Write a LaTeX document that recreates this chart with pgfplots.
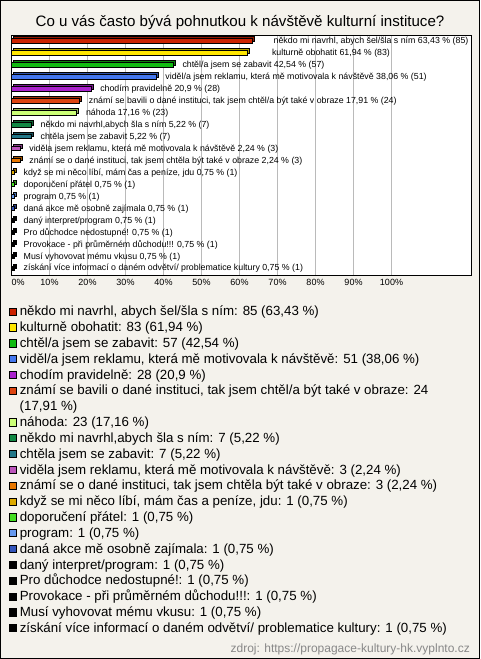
\documentclass[border=0pt]{standalone}
\usepackage{pgfplots}
\pgfplotsset{compat=1.18}
\usepackage{fontspec}
\setmainfont{Liberation Sans}
\definecolor{bg}{RGB}{244,242,236}
\definecolor{cA}{RGB}{204,34,0}
\definecolor{cB}{RGB}{255,230,0}
\definecolor{cC}{RGB}{17,187,17}
\definecolor{cD}{RGB}{68,119,238}
\definecolor{cE}{RGB}{170,34,204}
\definecolor{cF}{RGB}{221,68,17}
\definecolor{cG}{RGB}{204,255,119}
\definecolor{cH}{RGB}{17,136,68}
\definecolor{cI}{RGB}{34,119,136}
\definecolor{cJ}{RGB}{187,85,187}
\definecolor{cK}{RGB}{232,119,0}
\definecolor{cL}{RGB}{221,170,0}
\definecolor{cM}{RGB}{68,221,34}
\definecolor{cN}{RGB}{102,153,238}
\definecolor{cO}{RGB}{51,85,187}
\definecolor{cZ}{RGB}{0,0,0}
\definecolor{srcgray}{RGB}{136,136,136}
\newcommand{\barfont}{\fontsize{8.8}{10}\selectfont}
\newcommand{\legfont}{\fontsize{13.3}{15}\selectfont}
\newcommand{\tickfont}{\fontsize{9}{10}\selectfont}
\newcommand{\titlefont}{\fontsize{15.1}{18}\selectfont}
\newcommand{\srcfont}{\fontsize{12}{13}\selectfont}
% bar: color, value, row, label, label shift
\newcommand{\mybar}[5]{%
 \addplot[xbar, bar shift=0pt, bar width=4.4pt, fill=#1!70!black, draw=black, line width=0.7pt, xshift=2pt, yshift=2pt, forget plot] coordinates {(#2,#3)};
 \addplot[xbar, bar shift=0pt, bar width=4.4pt, fill=#1, draw=black, line width=0.7pt, forget plot,
   nodes near coords={#4}, nodes near coords align={horizontal},
   every node near coord/.append style={font=\barfont, anchor=base west, xshift=#5, yshift=-2.9pt, text=black, inner sep=0pt}] coordinates {(#2,#3)};
}
% legend item: color, y, text
\newcommand{\legitem}[3]{%
 \addplot[only marks, mark=square*, mark size=3.6pt, mark options={fill=#1, draw=black, line width=0.6pt},
   nodes near coords={#3}, nodes near coords align={horizontal},
   every node near coord/.append style={font=\legfont, anchor=base west, xshift=6.5pt, yshift=-4.2pt, text=black, inner sep=0pt}] coordinates {(13,#2)};
}
\begin{document}
\begin{tikzpicture}[x=1pt,y=1pt]
\fill[bg] (0,0) rectangle (480,-659);
\begin{axis}[at={(11.5pt,-35.5pt)}, anchor=north west, scale only axis,
  width=459.8pt, height=240pt, xmin=0, xmax=121, ymin=-0.46, ymax=19.62, y dir=reverse,
  axis background/.style={fill=white}, axis line style={line width=1.4pt},
  xtick={0,10,20,30,40,50,60,70,80,90,100},
  xticklabels={\makebox[0pt][l]{0\%},10\%,20\%,30\%,40\%,50\%,60\%,70\%,80\%,90\%,100\%},
  ytick=\empty, major tick length=0pt, xmajorgrids,
  grid style={color=black!27, line width=0.8pt},
  xticklabel style={font=\tickfont, text=black},
  clip=false]
\mybar{cA}{63.43}{0}{někdo mi navrhl, abych šel/šla s ním 63,43 \% (85)}{20.8pt}
\mybar{cB}{61.94}{1}{kulturně obohatit 61,94 \% (83)}{24.8pt}
\mybar{cC}{42.54}{2}{chtěl/a jsem se zabavit 42,54 \% (57)}{9pt}
\mybar{cD}{38.06}{3}{viděl/a jsem reklamu, která mě motivovala k návštěvě 38,06 \% (51)}{9pt}
\mybar{cE}{20.9}{4}{chodím pravidelně 20,9 \% (28)}{9pt}
\mybar{cF}{17.91}{5}{známí se bavili o dané instituci, tak jsem chtěl/a být také v obraze 17,91 \% (24)}{9pt}
\mybar{cG}{17.16}{6}{náhoda 17,16 \% (23)}{9pt}
\mybar{cH}{5.22}{7}{někdo mi navrhl,abych šla s ním 5,22 \% (7)}{9pt}
\mybar{cI}{5.22}{8}{chtěla jsem se zabavit 5,22 \% (7)}{9pt}
\mybar{cJ}{2.24}{9}{viděla jsem reklamu, která mě motivovala k návštěvě 2,24 \% (3)}{9pt}
\mybar{cK}{2.24}{10}{známí se o dané instituci, tak jsem chtěla být také v obraze 2,24 \% (3)}{9pt}
\mybar{cL}{0.75}{11}{když se mi něco líbí, mám čas a peníze, jdu 0,75 \% (1)}{9pt}
\mybar{cM}{0.75}{12}{doporučení přátel 0,75 \% (1)}{9pt}
\mybar{cN}{0.75}{13}{program 0,75 \% (1)}{9pt}
\mybar{cO}{0.75}{14}{daná akce mě osobně zajímala 0,75 \% (1)}{9pt}
\mybar{cZ}{0.75}{15}{daný interpret/program 0,75 \% (1)}{9pt}
\mybar{cZ}{0.75}{16}{Pro důchodce nedostupné! 0,75 \% (1)}{9pt}
\mybar{cZ}{0.75}{17}{Provokace - při průměrném důchodu!!! 0,75 \% (1)}{9pt}
\mybar{cZ}{0.75}{18}{Musí vyhovovat mému vkusu 0,75 \% (1)}{9pt}
\mybar{cZ}{0.75}{19}{získání více informací o daném odvětví/ problematice kultury 0,75 \% (1)}{9pt}
\end{axis}
\begin{axis}[at={(0pt,0pt)}, anchor=north west, scale only axis, width=480pt, height=659pt,
  xmin=0, xmax=480, ymin=0, ymax=659, y dir=reverse, hide axis, clip=false]
\legitem{cA}{311.5}{někdo mi navrhl, abych šel/šla s ním: 85 (63,43 \%)}
\legitem{cB}{327.3}{kulturně obohatit: 83 (61,94 \%)}
\legitem{cC}{343.2}{chtěl/a jsem se zabavit: 57 (42,54 \%)}
\legitem{cD}{359.0}{viděl/a jsem reklamu, která mě motivovala k návštěvě: 51 (38,06 \%)}
\legitem{cE}{374.8}{chodím pravidelně: 28 (20,9 \%)}
\legitem{cF}{390.7}{známí se bavili o dané instituci, tak jsem chtěl/a být také v obraze: 24}
\addplot[only marks, mark=none, nodes near coords={(17,91 \%)}, nodes near coords align={horizontal},
   every node near coord/.append style={font=\legfont, anchor=base west, xshift=6.5pt, yshift=-4.2pt, text=black, inner sep=0pt}] coordinates {(13,406.5)};
\legitem{cG}{422.3}{náhoda: 23 (17,16 \%)}
\legitem{cH}{438.1}{někdo mi navrhl,abych šla s ním: 7 (5,22 \%)}
\legitem{cI}{454.0}{chtěla jsem se zabavit: 7 (5,22 \%)}
\legitem{cJ}{469.8}{viděla jsem reklamu, která mě motivovala k návštěvě: 3 (2,24 \%)}
\legitem{cK}{485.6}{známí se o dané instituci, tak jsem chtěla být také v obraze: 3 (2,24 \%)}
\legitem{cL}{501.5}{když se mi něco líbí, mám čas a peníze, jdu: 1 (0,75 \%)}
\legitem{cM}{517.3}{doporučení přátel: 1 (0,75 \%)}
\legitem{cN}{533.1}{program: 1 (0,75 \%)}
\legitem{cO}{548.9}{daná akce mě osobně zajímala: 1 (0,75 \%)}
\legitem{cZ}{564.8}{daný interpret/program: 1 (0,75 \%)}
\legitem{cZ}{580.6}{Pro důchodce nedostupné!: 1 (0,75 \%)}
\legitem{cZ}{596.4}{Provokace - při průměrném důchodu!!!: 1 (0,75 \%)}
\legitem{cZ}{612.3}{Musí vyhovovat mému vkusu: 1 (0,75 \%)}
\legitem{cZ}{628.1}{získání více informací o daném odvětví/ problematice kultury: 1 (0,75 \%)}
\node[font=\titlefont, anchor=base] at (axis cs:240,26.5) {Co u vás často bývá pohnutkou k návštěvě kulturní instituce?};
\node[font=\srcfont, text=srcgray, anchor=base east, inner sep=0pt] at (axis cs:470,652) {zdroj: https://propagace-kultury-hk.vyplnto.cz};
\end{axis}
\draw[line width=1.2pt] (0.6,-0.6) rectangle (479.4,-658.4);
\pgfresetboundingbox
\useasboundingbox (0,0) rectangle (480,-659);
\end{tikzpicture}
\end{document}
